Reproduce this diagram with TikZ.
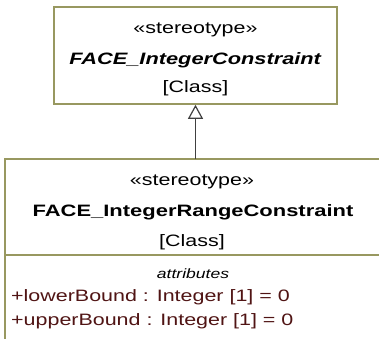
\documentclass[tikz,border=0pt]{standalone}
\usepackage{fontspec}
\setmainfont{Liberation Sans}
\usetikzlibrary{arrows.meta}
\definecolor{umlline}{RGB}{152,152,96}
\definecolor{attrtext}{RGB}{80,20,20}
\newcommand{\hstretch}[1]{\scalebox{1.3}[1]{#1}}
\begin{document}
\begin{tikzpicture}[x=1pt,y=-1pt,
  txt/.style={inner sep=0pt, font=\fontsize{16.5}{20}\selectfont, anchor=center},
  attr/.style={txt, anchor=west, text=attrtext},
  box/.style={draw=umlline, line width=1.6pt},
  gen/.style={draw=black!75, line width=1.4pt, -{Triangle[open,length=14pt,width=15pt,line width=1.2pt]}}]
\useasboundingbox (0,0) rectangle (379,338);
\fill[white] (0,0) rectangle (379,338);
% top class
\node[box, minimum width=283pt, minimum height=97pt, inner sep=0pt] (top) at (195.5,55.5) {};
\node[txt] (s1) at (195.5,30) {\hstretch{«stereotype»}};
\node[txt] (n1) at (195.5,60) {\scalebox{1.32}[1]{\textbf{\textit{FACE\_IntegerConstraint}}}};
\node[txt] (c1) at (195.5,88) {\hstretch{[Class]}};
% bottom class (cropped)
\node[minimum width=380pt, minimum height=186pt, inner sep=0pt, anchor=north west] (bot) at (5,159) {};
\draw[box] (bot.north east) -- (bot.north west) -- (bot.south west);
\draw[box] (5,255) -- (385,255);
\node[txt] (s2) at (192,182) {\hstretch{«stereotype»}};
\node[txt] (n2) at (193,212) {\scalebox{1.33}[1]{\textbf{FACE\_IntegerRangeConstraint}}};
\node[txt] (c2) at (192,242) {\hstretch{[Class]}};
\node[txt, font=\fontsize{13.5}{16}\selectfont] (a0) at (193,274) {\hstretch{\textit{attributes}}};
\node[attr] (a1) at (11,297) {\hstretch{+lowerBound : Integer [1] = 0}};
\node[attr] (a2) at (11,321) {\hstretch{+upperBound : Integer [1] = 0}};
% generalization
\draw[gen] (top.south |- bot.north) -- (top.south);
\end{tikzpicture}
\end{document}
